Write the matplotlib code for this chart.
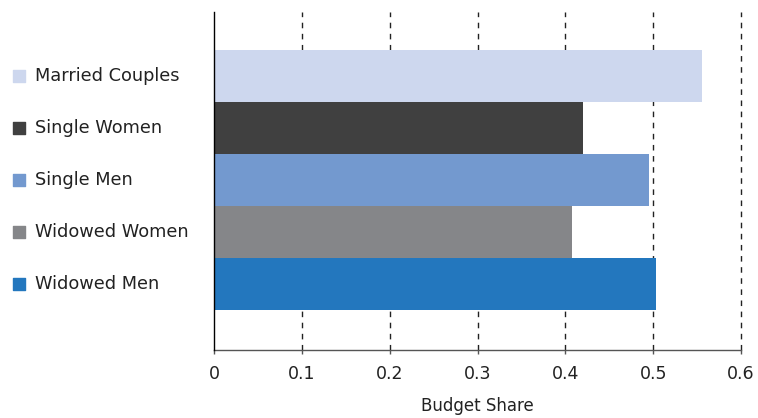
import matplotlib
matplotlib.use("Agg")
import matplotlib.pyplot as plt
import matplotlib.transforms as mtransforms

# household groups, bottom to top
groups = ['Widowed Men', 'Widowed Women', 'Single Men', 'Single Women', 'Married Couples']
shares = [0.503, 0.408, 0.495, 0.420, 0.556]
colors = ['#2377be', '#858689', '#7399cf', '#404040', '#cdd7ee']
xticks = [0, 0.1, 0.2, 0.3, 0.4, 0.5, 0.6]
xticklabels = ['0', '0.1', '0.2', '0.3', '0.4', '0.5', '0.6']

fig = plt.figure(figsize=(7.58, 4.18), dpi=100)
ax = fig.add_axes([0.2823, 0.1627, 0.6953, 0.8086])

ypos = list(range(len(groups)))
ax.barh(ypos, shares, height=1.0, color=colors, zorder=2)

ax.set_xlim(0, 0.6)
ax.set_ylim(-1.27, 5.23)

# dashed vertical gridlines
for xv in xticks[1:]:
    ax.axvline(xv, color='#222222', linestyle=(0, (4, 4)), linewidth=1.0,
               zorder=1, clip_on=False)

for side in ['top', 'right']:
    ax.spines[side].set_visible(False)
ax.spines['left'].set_color('black')
ax.spines['left'].set_linewidth(1.0)
ax.spines['left'].set_zorder(3)
ax.spines['bottom'].set_color('#555555')
ax.spines['bottom'].set_linewidth(1.0)

ax.set_xticks(xticks)
ax.set_xticklabels(xticklabels, fontsize=12.5, color='#222222')
ax.tick_params(axis='x', length=3, width=1, color='#555555', pad=8)
ax.set_yticks([])
ax.set_xlabel('Budget Share', fontsize=12, color='#222222', labelpad=10)

# labels with colour keys on the left
trans = mtransforms.blended_transform_factory(fig.transFigure, ax.transData)
for y, name, c in zip(ypos, groups, colors):
    ax.scatter([0.0251], [y], marker='s', s=85, color=c, transform=trans, clip_on=False)
    ax.text(0.0462, y, name, transform=trans, fontsize=12.8, color='#222222',
            va='center', ha='left')

fig.savefig('out.png', dpi=100)
